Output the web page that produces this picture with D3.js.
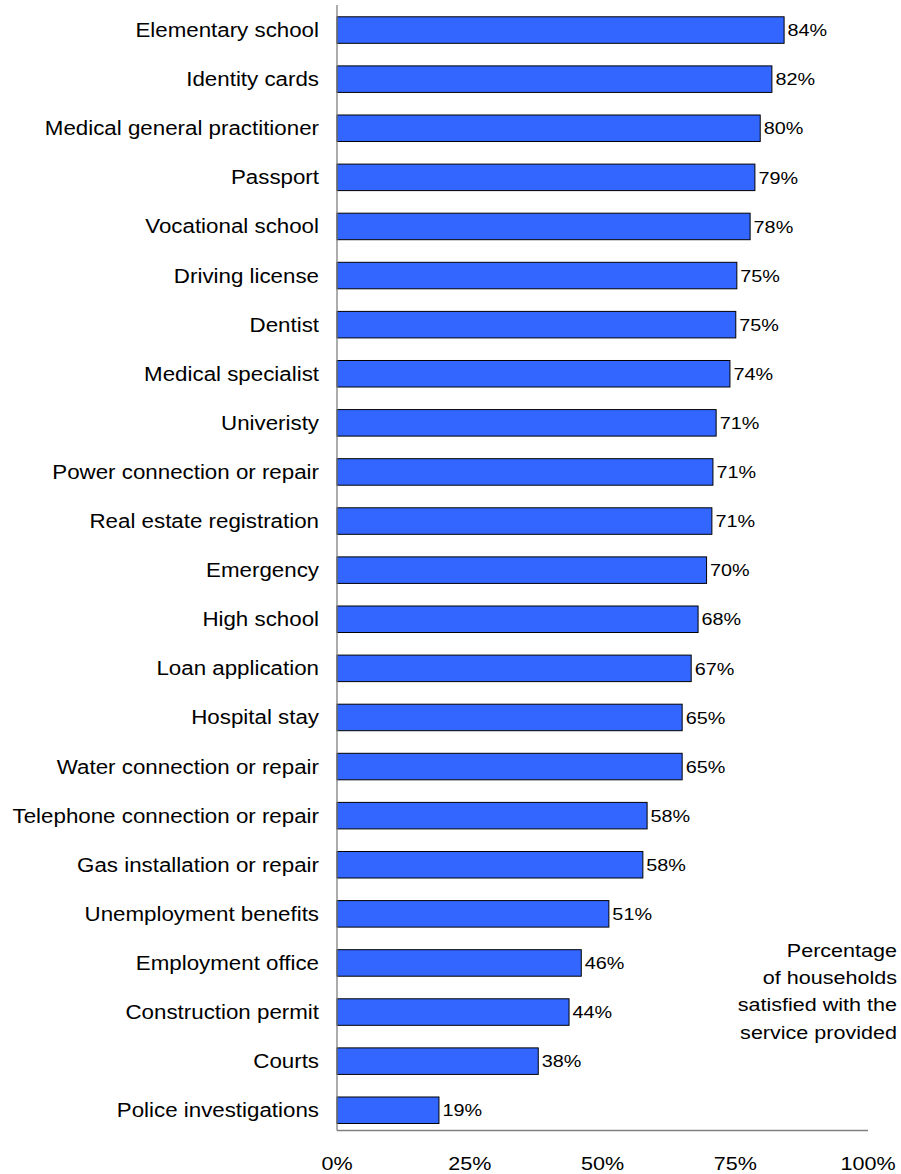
<!DOCTYPE html>
<html>
<head>
<meta charset="utf-8">
<script src="https://cdn.jsdelivr.net/npm/d3@7"></script>
<style>
  html, body { margin: 0; padding: 0; background: #fff; }
  svg { display: block; }
  text { font-family: "Liberation Sans", Arial, Helvetica, sans-serif; fill: #000; }
</style>
</head>
<body>
<svg id="chart" width="901" height="1174"></svg>
<script>
const categories = [
  "Elementary school", "Identity cards", "Medical general practitioner", "Passport",
  "Vocational school", "Driving license", "Dentist", "Medical specialist",
  "Univeristy", "Power connection or repair", "Real estate registration", "Emergency",
  "High school", "Loan application", "Hospital stay", "Water connection or repair",
  "Telephone connection or repair", "Gas installation or repair", "Unemployment benefits",
  "Employment office", "Construction permit", "Courts", "Police investigations"
];
const values = [84.2, 81.9, 79.7, 78.7, 77.8, 75.3, 75.1, 74.0, 71.4, 70.8, 70.6, 69.6,
  68.0, 66.7, 65.0, 65.0, 58.4, 57.6, 51.2, 46.0, 43.7, 37.9, 19.2];
const xTicks = [0, 25, 50, 75, 100];
const noteLines = ["Percentage", "of households", "satisfied with the", "service provided"];

const svg = d3.select("#chart");
const SX = 1.165; // horizontal stretch of the original text
const x = d3.scaleLinear().domain([0, 100]).range([337, 868]);
const y = d3.scaleBand().domain(categories).range([5.5, 1134.8])
  .paddingInner(0.46).paddingOuter(0.23);

function stretched(sel, px, py, sx) {
  return sel.attr("transform", `translate(${px},${py}) scale(${sx || SX},1)`);
}

// bars
svg.append("g").selectAll("rect").data(categories).join("rect")
  .attr("x", x(0))
  .attr("y", d => y(d))
  .attr("width", (d, i) => x(values[i]) - x(0))
  .attr("height", y.bandwidth())
  .attr("fill", "#3366ff")
  .attr("stroke", "#000")
  .attr("stroke-width", 1);

// axes lines
svg.append("line").attr("x1", x(0)).attr("x2", x(0)).attr("y1", 5).attr("y2", 1130.5)
  .attr("stroke", "#808080").attr("stroke-width", 1.3);
svg.append("line").attr("x1", x(0)).attr("x2", x(100)).attr("y1", 1130.5).attr("y2", 1130.5)
  .attr("stroke", "#808080").attr("stroke-width", 1.3);

// category labels
svg.append("g").selectAll("text").data(categories).join("text")
  .attr("text-anchor", "end")
  .attr("font-size", 19.5)
  .each(function(d) { stretched(d3.select(this), 319, y(d) + y.bandwidth() / 2 + 7, 1.145); })
  .text(d => d);

// value labels
const fmt = d3.format(".0f");
svg.append("g").selectAll("text").data(categories).join("text")
  .attr("text-anchor", "start")
  .attr("font-size", 17)
  .each(function(d, i) { stretched(d3.select(this), x(values[i]) + 3.5, y(d) + y.bandwidth() / 2 + 6.2); })
  .text((d, i) => fmt(values[i]) + "%");

// x tick labels
svg.append("g").selectAll("text").data(xTicks).join("text")
  .attr("text-anchor", "middle")
  .attr("font-size", 18.5)
  .each(function(d) { stretched(d3.select(this), x(d), 1170); })
  .text(d => d + "%");

// annotation
svg.append("g").selectAll("text").data(noteLines).join("text")
  .attr("text-anchor", "end")
  .attr("font-size", 18.5)
  .each(function(d, i) { stretched(d3.select(this), 897, 957 + i * 27.2); })
  .text(d => d);
</script>
</body>
</html>
